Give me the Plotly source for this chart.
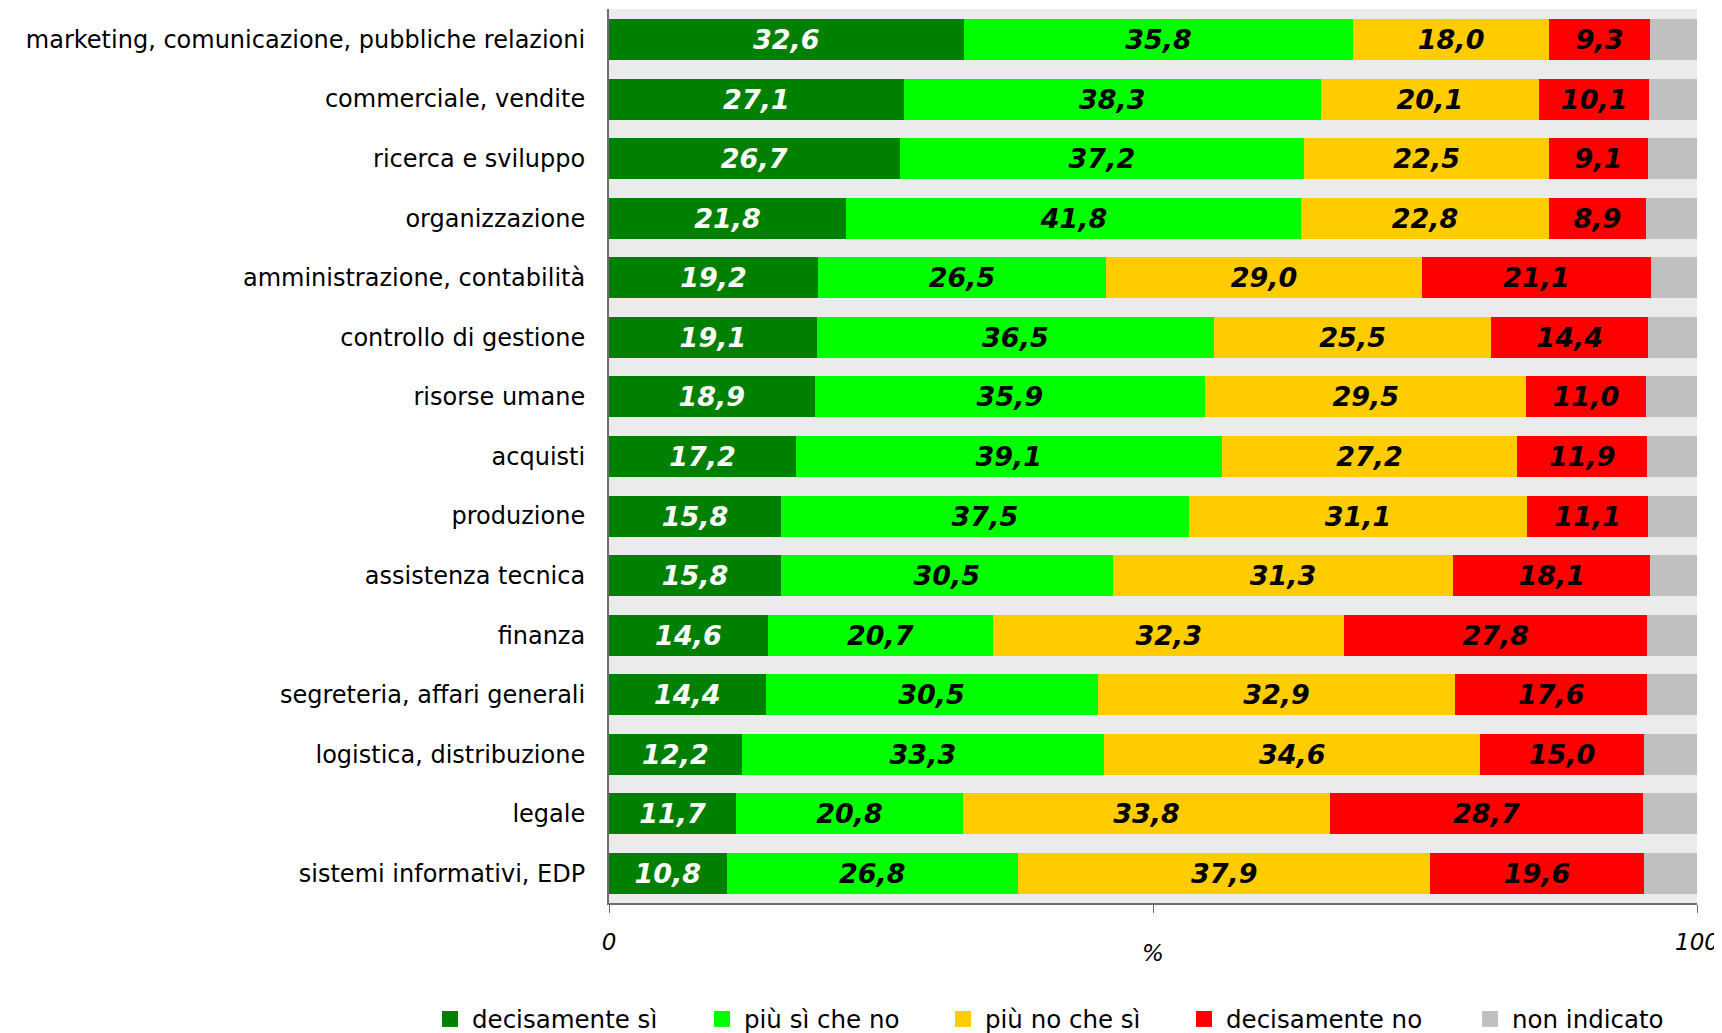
import plotly.graph_objects as go

categories = [
    "marketing, comunicazione, pubbliche relazioni",
    "commerciale, vendite",
    "ricerca e sviluppo",
    "organizzazione",
    "amministrazione, contabilità",
    "controllo di gestione",
    "risorse umane",
    "acquisti",
    "produzione",
    "assistenza tecnica",
    "finanza",
    "segreteria, affari generali",
    "logistica, distribuzione",
    "legale",
    "sistemi informativi, EDP",
]

decisamente_si = [32.6, 27.1, 26.7, 21.8, 19.2, 19.1, 18.9, 17.2, 15.8, 15.8, 14.6, 14.4, 12.2, 11.7, 10.8]
piu_si_che_no = [35.8, 38.3, 37.2, 41.8, 26.5, 36.5, 35.9, 39.1, 37.5, 30.5, 20.7, 30.5, 33.3, 20.8, 26.8]
piu_no_che_si = [18.0, 20.1, 22.5, 22.8, 29.0, 25.5, 29.5, 27.2, 31.1, 31.3, 32.3, 32.9, 34.6, 33.8, 37.9]
decisamente_no = [9.3, 10.1, 9.1, 8.9, 21.1, 14.4, 11.0, 11.9, 11.1, 18.1, 27.8, 17.6, 15.0, 28.7, 19.6]
non_indicato = [4.3, 4.4, 4.5, 4.7, 4.2, 4.5, 4.7, 4.6, 4.5, 4.3, 4.6, 4.6, 4.9, 5.0, 4.9]

x_tick_values = [0, 50, 100]
x_tick_labels = ["0", "", "100"]

series = [
    ("decisamente sì", decisamente_si, "#008000", "white", True),
    ("più sì che no", piu_si_che_no, "#00FF00", "black", True),
    ("più no che sì", piu_no_che_si, "#FFCC00", "black", True),
    ("decisamente no", decisamente_no, "#FF0000", "black", True),
    ("non indicato", non_indicato, "#C0C0C0", "black", False),
]

FONT = "DejaVu Sans"
OFF = 8  # default page body margin around the plot div
W, H = 1722 - OFF, 1033 - OFF
# page pixel where each legend entry's text begins
legend_text_x = [473, 745, 986, 1227, 1513]

fig = go.Figure()
for name, vals, color, tcolor, show_text in series:
    fig.add_trace(go.Bar(
        y=categories,
        x=vals,
        name=name,
        orientation="h",
        marker=dict(color=color, line=dict(width=0)),
        width=0.688,
        text=[f"{v:.1f}".replace(".", ",") for v in vals] if show_text else None,
        textposition="inside" if show_text else "none",
        insidetextanchor="middle",
        textangle=0,
        constraintext="none",
        textfont=dict(family=FONT, size=27, color=tcolor, weight="bold", style="italic"),
        hoverinfo="skip",
        showlegend=False,
    ))

legend_layouts = {}
for i, (name, vals, color, tcolor, show_text) in enumerate(series):
    lid = "legend" if i == 0 else f"legend{i + 1}"
    fig.add_trace(go.Scatter(
        x=[None], y=[None],
        mode="markers",
        name=name,
        legend=lid,
        marker=dict(symbol="square", size=24, color=color, line=dict(width=0)),
        showlegend=True,
        hoverinfo="skip",
    ))
    legend_layouts[lid] = dict(
        orientation="h",
        xref="container", yref="container",
        x=(legend_text_x[i] - OFF - 45) / W, xanchor="left",
        y=1 - (1019 - OFF) / H, yanchor="middle",
        font=dict(family=FONT, size=24.5, color="black"),
        itemwidth=34,
        bgcolor="rgba(0,0,0,0)",
        borderwidth=0,
    )

plot_top, plot_bottom = 9 - OFF, 903 - OFF
fig.update_layout(
    barmode="stack",
    width=W,
    height=H,
    margin=dict(l=609 - OFF, r=W - (1697 - OFF), t=plot_top, b=H - plot_bottom, autoexpand=False),
    paper_bgcolor="white",
    plot_bgcolor="#EBEBEB",
    font=dict(family=FONT, size=24, color="black"),
    showlegend=True,
    xaxis=dict(
        range=[0, 100],
        tickvals=x_tick_values,
        ticktext=x_tick_labels,
        showgrid=False,
        zeroline=False,
        showline=True,
        linecolor="#6D6D6D",
        linewidth=2,
        ticks="outside",
        ticklen=8,
        tickwidth=1,
        tickcolor="#6D6D6D",
        ticklabelstandoff=9,
        automargin=False,
        tickfont=dict(family=FONT, size=23, style="italic"),
    ),
    yaxis=dict(
        autorange=False,
        range=[14.495, -0.512],
        showgrid=False,
        zeroline=False,
        showline=True,
        linecolor="#6D6D6D",
        linewidth=2,
        ticks="",
        ticklabelstandoff=17,
        automargin=False,
        tickfont=dict(family=FONT, size=24),
    ),
    annotations=[dict(
        text="%", xref="paper", yref="paper",
        x=0.5, y=(903 - 953) / (903 - 9), xanchor="center", yanchor="middle",
        showarrow=False, font=dict(family=FONT, size=23, style="italic"),
    )],
    **legend_layouts,
)

fig.write_html("out.html")
